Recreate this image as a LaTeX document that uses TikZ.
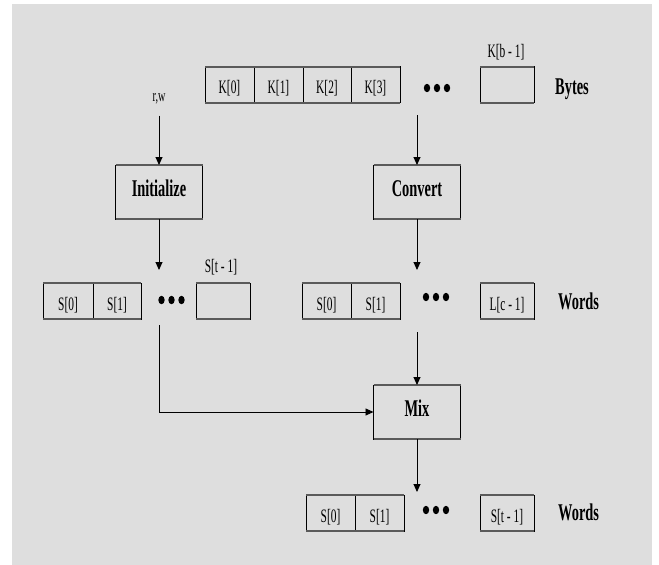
\documentclass[tikz,border=0pt]{standalone}
\usepackage{fontspec}
\usetikzlibrary{arrows.meta}
\newfontfamily\condf{Liberation Serif}[FakeStretch=0.6]
\newcommand\celltxt{\condf\fontsize{19}{22}\selectfont}
\newcommand\bigtxt{\condf\bfseries\fontsize{24}{27}\selectfont}
\newcommand\smalltxt{\condf\fontsize{17}{20}\selectfont}
\definecolor{bgc}{HTML}{DEDEDE}
\definecolor{edgegray}{HTML}{5A5A5A}
\tikzset{
  edgeline/.style={draw=edgegray, line width=2pt},
  bx/.style={draw=black, line width=0.9pt, inner sep=0pt, outer sep=0pt,
    append after command={(\tikzlastnode.north west) edge[edgeline] (\tikzlastnode.north east)
                          (\tikzlastnode.south west) edge[edgeline] (\tikzlastnode.south east)}},
  cell/.style={bx, minimum height=36pt, font=\celltxt, text height=23pt, text depth=5pt},
  proc/.style={bx, minimum width=87pt, minimum height=54pt, font=\bigtxt, text height=16pt, text depth=8pt},
  lab/.style={inner sep=0pt, font=\celltxt},
  blab/.style={inner sep=0pt, font=\bigtxt, anchor=base west},
  arr/.style={-{Triangle[length=8pt,width=7pt]}, line width=0.9pt},
  ln/.style={line width=0.9pt},
  dot/.style={fill=black},
}
\begin{document}
\begin{tikzpicture}[x=1pt,y=-1pt]
\useasboundingbox (0,0) rectangle (659,565);
\fill[bgc] (12,4) rectangle (652,565);

% top row: bytes
\node[cell, minimum width=49pt] (k0) at (229.5,84.5) {K[0]};
\node[cell, minimum width=49pt] (k1) at (278.5,84.5) {K[1]};
\node[cell, minimum width=48pt] (k2) at (327,84.5) {K[2]};
\node[cell, minimum width=49pt] (k3) at (375.5,84.5) {K[3]};
\coordinate (dtop) at (437,88);
\node[cell, minimum width=54pt] (kb) at (507,84.5) {};
\node[lab] (kblab) at (506,52.5) {K[b - 1]};
\node[blab] (bytes) at (555,94) {Bytes};

% processes
\node[inner sep=0pt, font=\smalltxt] (rw) at (159,99) {r,w};
\node[proc] (init) at (159,192) {Initialize};
\node[proc] (conv) at (417,192) {Convert};
\node[proc] (mix) at (417,412) {Mix};

% left row S
\node[cell, minimum width=50pt] (sl0) at (68,301) {S[0]};
\node[cell, minimum width=48pt] (sl1) at (117,301) {S[1]};
\coordinate (dleft) at (171.5,300);
\node[cell, minimum width=54pt] (slt) at (223,301) {};
\node[lab] (sltlab) at (221,267.5) {S[t - 1]};

% middle row L
\node[cell, minimum width=49pt] (lm0) at (326.5,301) {S[0]};
\node[cell, minimum width=49pt] (lm1) at (375.5,301) {S[1]};
\coordinate (dmid) at (436,297);
\node[cell, minimum width=54pt] (lmc) at (507,301) {L[c - 1]};
\node[blab] (words1) at (558,309) {Words};

% bottom row S
\node[cell, minimum width=49pt] (sb0) at (330.5,513) {S[0]};
\node[cell, minimum width=49pt] (sb1) at (379.5,513) {S[1]};
\coordinate (dbot) at (436,510);
\node[cell, minimum width=54pt] (sbt) at (507,513) {S[t - 1]};
\node[blab] (words2) at (558,520) {Words};

% dots
\foreach \c in {dtop,dleft,dmid,dbot}{
  \foreach \dx in {-10,0,10}{
    \fill[dot] ([xshift=\dx pt]\c) ellipse [x radius=3.2pt, y radius=4.2pt];
  }
}

% connectors
\coordinate (ca) at (417,115);
\coordinate (ia) at (159,270);
\coordinate (cb) at (417,270);
\coordinate (ls) at (159,325);
\coordinate (ms) at (417,332);
\coordinate (me) at (417,492);
\draw[arr] (rw.south) ++(0,11) -- (init.north);
\draw[arr] (ca) -- (conv.north);
\draw[arr] (init.south) -- (ia);
\draw[arr] (conv.south) -- (cb);
\draw[arr] (ls) |- (mix.west);
\draw[arr] (ms) -- (mix.north);
\draw[arr] (mix.south) -- (me);
\end{tikzpicture}
\end{document}
